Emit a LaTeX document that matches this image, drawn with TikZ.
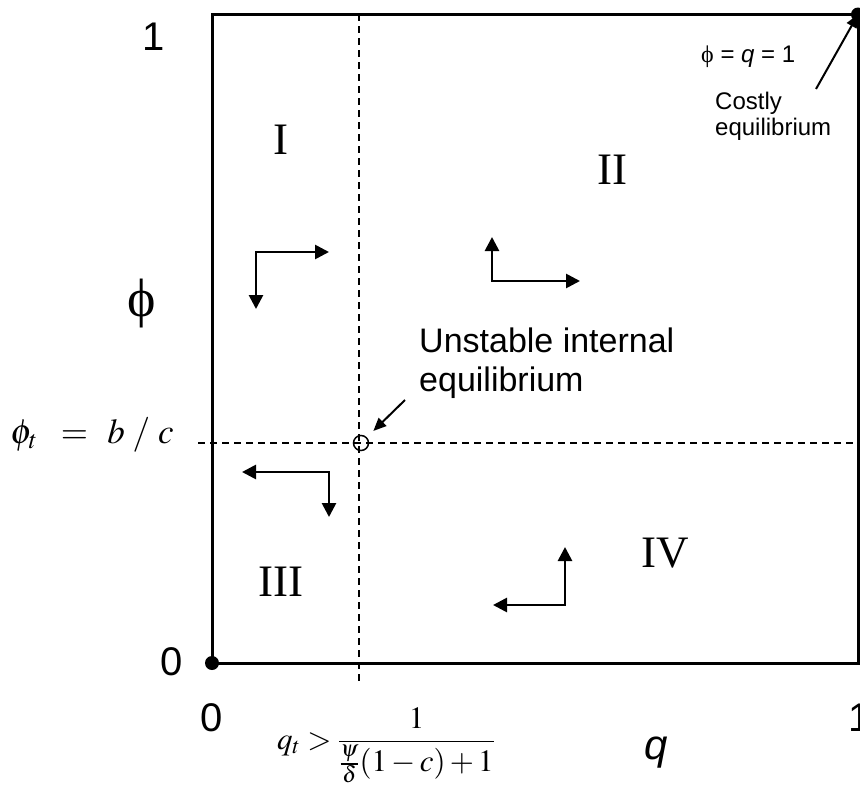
\documentclass[tikz,border=0pt]{standalone}
\usepackage{mathptmx}
\usepackage[no-math]{fontspec}
\setmainfont{Liberation Sans}
\newfontfamily\timesf{Liberation Serif}
\usetikzlibrary{arrows.meta}
\begin{document}
\begin{tikzpicture}[x=1pt,y=-1pt,
  frame/.style={line width=3pt},
  guide/.style={line width=2pt, dash pattern=on 7pt off 5pt},
  flow/.style={line width=2.7pt, line join=miter,
    {Triangle[length=14pt,width=14pt]}-{Triangle[length=14pt,width=14pt]}},
  pointer/.style={line width=2pt, -{Triangle[length=13pt,width=11pt]}},
  sanslab/.style={font=\fontsize{40}{48}\selectfont, inner sep=0pt},
  roman/.style={font=\timesf\fontsize{45}{50}\selectfont, inner sep=0pt},
  dot/.style={circle, fill=black, inner sep=0pt, minimum size=14pt}
]
\useasboundingbox (0,0) rectangle (860,787);

% guides
\draw[guide] (359,14) -- (359,682);
\draw[guide] (198,443) -- (862,443);

% frame
\coordinate (O) at (212,663);
\coordinate (C) at (858,14.5);
\draw[frame] (O) rectangle (C);
\node[dot] (odot) at (O) {};
\node[dot] (cdot) at (C) {};

% internal equilibrium
\node[circle, draw, line width=1.5pt, minimum size=15pt, inner sep=0pt] (eq) at (361,443) {};

% axis labels
\node[sanslab] (one) at (154,37) {1};
\node[sanslab] (zl) at (172,662) {0};
\node[sanslab] (zb) at (212,718) {0};
\node[sanslab] (oneb) at (860,718) {1};
\node[sanslab, font=\itshape\fontsize{42}{48}\selectfont] (ql) at (656,753) {q};
\node[inner sep=0pt, font=\timesf\fontsize{54}{60}\selectfont] (phil) at (142,304) {ϕ};
\node[anchor=base, inner sep=0pt] (phit) at (92,443)
  {\fontsize{35}{40}\selectfont $\phi_t \;\;=\;\, b\;/\;c$};
\node[anchor=base, inner sep=0pt] (qt) at (386,749)
  {\fontsize{31}{36}\selectfont $q_t > \displaystyle\frac{1}{\frac{\psi}{\delta}(1-c)+1}$};

% regions
\node[roman] (r1) at (281,140) {I};
\node[roman] (r2) at (612,170) {II};
\node[roman] (r3) at (281,582) {III};
\node[roman] (r4) at (665,553) {IV};

% flow arrows
\draw[flow] (256,309) |- (329,252);
\draw[flow] (492,237) |- (580,281);
\draw[flow] (242,472) -| (329,517);
\draw[flow] (493,605) -| (565,547);

% annotations
\node[anchor=north west, inner sep=0pt, align=left, font=\fontsize{34}{39}\selectfont]
  (ulab) at (419,328) {Unstable internal\\equilibrium};
\coordinate (ua) at (405,400);
\draw[pointer, shorten >=9pt] (ua) -- (eq);

\node[anchor=base west, inner sep=0pt, font=\fontsize{24}{27}\selectfont]
  (cq) at (701,62) {{\timesf ϕ} = \textit{q} = 1};
\node[anchor=north west, inner sep=0pt, align=left, font=\fontsize{24}{26}\selectfont]
  (clab) at (715,92) {Costly\\equilibrium};
\coordinate (cs) at (816,89);
\draw[pointer] (cs) -- (cdot.center);
\end{tikzpicture}
\end{document}
